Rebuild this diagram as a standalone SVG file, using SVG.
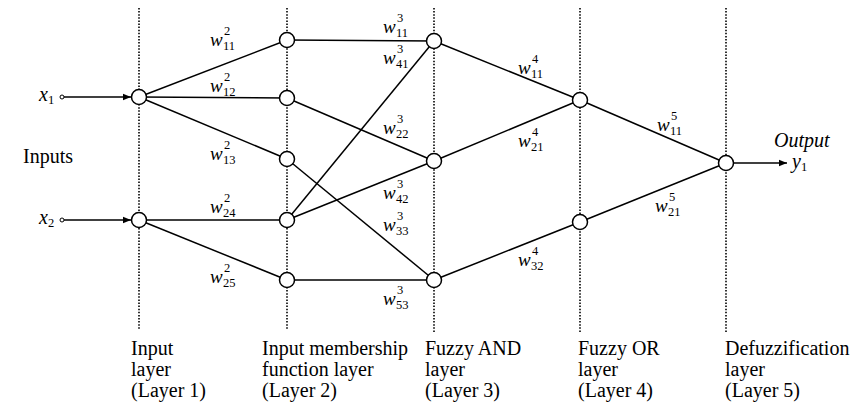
<svg xmlns="http://www.w3.org/2000/svg" width="864" height="414" viewBox="0 0 864 414">
<style>
.bg{fill:#fff}
.dot{stroke:#000;stroke-width:1.6;stroke-dasharray:1.5 1.6;fill:none}
.ln{stroke:#000;stroke-width:1.5;fill:none}
.nd{fill:#fff;stroke:#000;stroke-width:1.5}
.t{font-family:"Liberation Serif",serif;font-size:20px;fill:#000}
.i{font-family:"Liberation Serif",serif;font-size:20px;font-style:italic;fill:#000}
.w{font-family:"Liberation Serif",serif;font-size:19px;font-style:italic;fill:#000}
.s{font-family:"Liberation Serif",serif;font-size:12.5px;font-style:normal;fill:#000}
</style>
<defs>
<marker id="ah" viewBox="0 0 10 10" refX="10" refY="5" markerWidth="8" markerHeight="8" markerUnits="userSpaceOnUse" orient="auto">
<path d="M0,1 L10,5 L0,9 z" fill="#000"/>
</marker>
</defs>
<rect class="bg" x="0" y="0" width="864" height="414"/>
<g id="layer-lines">
<line class="dot" x1="139" y1="8" x2="139" y2="330"/>
<line class="dot" x1="287" y1="8" x2="287" y2="330"/>
<line class="dot" x1="434" y1="8" x2="434" y2="332"/>
<line class="dot" x1="580" y1="8" x2="580" y2="333"/>
<line class="dot" x1="726" y1="8" x2="726" y2="333"/>
</g>
<g id="connectors">
<line class="ln" x1="64" y1="97" x2="131" y2="97" marker-end="url(#ah)"/>
<line class="ln" x1="64" y1="220" x2="131" y2="220" marker-end="url(#ah)"/>
<circle cx="62" cy="97" r="2" fill="#fff" stroke="#000" stroke-width="1"/>
<circle cx="62" cy="220" r="2" fill="#fff" stroke="#000" stroke-width="1"/>
<line class="ln" x1="139" y1="97" x2="287" y2="40"/>
<line class="ln" x1="139" y1="97" x2="287" y2="98"/>
<line class="ln" x1="139" y1="97" x2="287" y2="159"/>
<line class="ln" x1="139" y1="220" x2="287" y2="220"/>
<line class="ln" x1="139" y1="220" x2="287" y2="280"/>
<line class="ln" x1="287" y1="40" x2="434" y2="41"/>
<line class="ln" x1="287" y1="98" x2="434" y2="161"/>
<line class="ln" x1="287" y1="159" x2="434" y2="280"/>
<line class="ln" x1="287" y1="220" x2="434" y2="41"/>
<line class="ln" x1="287" y1="220" x2="434" y2="161"/>
<line class="ln" x1="287" y1="280" x2="434" y2="280"/>
<line class="ln" x1="434" y1="41" x2="580" y2="100"/>
<line class="ln" x1="434" y1="161" x2="580" y2="100"/>
<line class="ln" x1="434" y1="280" x2="580" y2="222"/>
<line class="ln" x1="580" y1="100" x2="726" y2="163"/>
<line class="ln" x1="580" y1="222" x2="726" y2="163"/>
<line class="ln" x1="734" y1="163" x2="787" y2="163" marker-end="url(#ah)"/>
</g>
<g id="n-l1-1"><circle class="nd" cx="139" cy="97" r="7.5"/></g>
<g id="n-l1-2"><circle class="nd" cx="139" cy="220" r="7.5"/></g>
<g id="n-l2-1"><circle class="nd" cx="287" cy="40" r="7.5"/></g>
<g id="n-l2-2"><circle class="nd" cx="287" cy="98" r="7.5"/></g>
<g id="n-l2-3"><circle class="nd" cx="287" cy="159" r="7.5"/></g>
<g id="n-l2-4"><circle class="nd" cx="287" cy="220" r="7.5"/></g>
<g id="n-l2-5"><circle class="nd" cx="287" cy="280" r="7.5"/></g>
<g id="n-l3-1"><circle class="nd" cx="434" cy="41" r="7.5"/></g>
<g id="n-l3-2"><circle class="nd" cx="434" cy="161" r="7.5"/></g>
<g id="n-l3-3"><circle class="nd" cx="434" cy="280" r="7.5"/></g>
<g id="n-l4-1"><circle class="nd" cx="580" cy="100" r="7.5"/></g>
<g id="n-l4-2"><circle class="nd" cx="580" cy="222" r="7.5"/></g>
<g id="n-l5-1"><circle class="nd" cx="726" cy="163" r="7.5"/></g>
<g id="io-labels">
<text class="i" x="39" y="101">x<tspan class="s" dy="3">1</tspan></text>
<text class="i" x="39" y="224">x<tspan class="s" dy="3">2</tspan></text>
<text class="t" x="23" y="163">Inputs</text>
<text class="i" x="774" y="147">Output</text>
<text class="i" x="792" y="168">y<tspan class="s" dy="3">1</tspan></text>
</g>
<g id="weights">
<text><tspan class="w" x="210" y="46">w</tspan><tspan class="s" x="224" y="35">2</tspan><tspan class="s" x="223" y="50">11</tspan></text>
<text><tspan class="w" x="210" y="92">w</tspan><tspan class="s" x="224" y="81">2</tspan><tspan class="s" x="223" y="96">12</tspan></text>
<text><tspan class="w" x="210" y="160">w</tspan><tspan class="s" x="224" y="149">2</tspan><tspan class="s" x="223" y="164">13</tspan></text>
<text><tspan class="w" x="210" y="213">w</tspan><tspan class="s" x="224" y="202">2</tspan><tspan class="s" x="223" y="217">24</tspan></text>
<text><tspan class="w" x="210" y="283">w</tspan><tspan class="s" x="224" y="272">2</tspan><tspan class="s" x="223" y="287">25</tspan></text>
<text><tspan class="w" x="383" y="33">w</tspan><tspan class="s" x="397" y="22">3</tspan><tspan class="s" x="396" y="37">11</tspan></text>
<text><tspan class="w" x="383" y="64">w</tspan><tspan class="s" x="397" y="53">3</tspan><tspan class="s" x="396" y="68">41</tspan></text>
<text><tspan class="w" x="383" y="134">w</tspan><tspan class="s" x="397" y="123">3</tspan><tspan class="s" x="396" y="138">22</tspan></text>
<text><tspan class="w" x="383" y="199">w</tspan><tspan class="s" x="397" y="188">3</tspan><tspan class="s" x="396" y="203">42</tspan></text>
<text><tspan class="w" x="383" y="231">w</tspan><tspan class="s" x="397" y="220">3</tspan><tspan class="s" x="396" y="235">33</tspan></text>
<text><tspan class="w" x="383" y="305">w</tspan><tspan class="s" x="397" y="294">3</tspan><tspan class="s" x="396" y="309">53</tspan></text>
<text><tspan class="w" x="518" y="74">w</tspan><tspan class="s" x="532" y="63">4</tspan><tspan class="s" x="531" y="78">11</tspan></text>
<text><tspan class="w" x="518" y="147">w</tspan><tspan class="s" x="532" y="136">4</tspan><tspan class="s" x="531" y="151">21</tspan></text>
<text><tspan class="w" x="518" y="266">w</tspan><tspan class="s" x="532" y="255">4</tspan><tspan class="s" x="531" y="270">32</tspan></text>
<text><tspan class="w" x="657" y="131">w</tspan><tspan class="s" x="671" y="120">5</tspan><tspan class="s" x="670" y="135">11</tspan></text>
<text><tspan class="w" x="655" y="212">w</tspan><tspan class="s" x="669" y="201">5</tspan><tspan class="s" x="668" y="216">21</tspan></text>
</g>
<g id="layer-labels">
<text class="t"><tspan x="131" y="355">Input</tspan><tspan x="131" y="376">layer</tspan><tspan x="131" y="397">(Layer 1)</tspan></text>
<text class="t"><tspan x="262" y="355">Input membership</tspan><tspan x="262" y="376">function layer</tspan><tspan x="262" y="397">(Layer 2)</tspan></text>
<text class="t"><tspan x="425" y="355">Fuzzy AND</tspan><tspan x="425" y="376">layer</tspan><tspan x="425" y="397">(Layer 3)</tspan></text>
<text class="t"><tspan x="578" y="355">Fuzzy OR</tspan><tspan x="578" y="376">layer</tspan><tspan x="578" y="397">(Layer 4)</tspan></text>
<text class="t"><tspan x="725" y="355">Defuzzification</tspan><tspan x="725" y="376">layer</tspan><tspan x="725" y="397">(Layer 5)</tspan></text>
</g>
</svg>
